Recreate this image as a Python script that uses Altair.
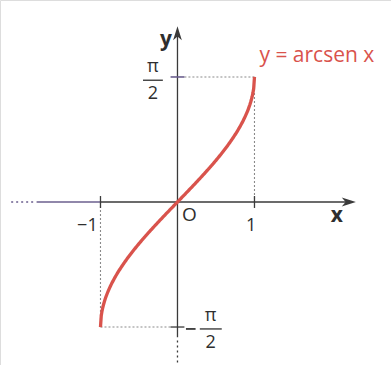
import altair as alt
import numpy as np
import pandas as pd

# --- values -------------------------------------------------------------
HALF_PI = np.pi / 2
curve_x = np.linspace(-1, 1, 201)
curve_y = np.arcsin(curve_x)

x_ticks = [-1, 1]
x_tick_labels = ["−1", "1"]
y_ticks = [HALF_PI, -HALF_PI]

# plot window (data units)
X_DOMAIN = [-2.305, 2.773]
Y_DOMAIN = [-2.048, 2.538]

RED = "#d9534c"
AXIS = "#3a3a3a"
PURPLE = "#6b5f8e"
GUIDE = "#8a8a8a"
TEXT = "#2e2e2e"
FONT = "Open Sans"

xs = alt.Scale(domain=X_DOMAIN, nice=False, zero=False)
ys = alt.Scale(domain=Y_DOMAIN, nice=False, zero=False)


def segs(rows):
    return pd.DataFrame(rows, columns=["x0", "y0", "x1", "y1"])


def rule_layer(df, color, width=1.2, dash=None):
    kw = dict(color=color, strokeWidth=width)
    if dash:
        kw["strokeDash"] = dash
    return alt.Chart(df).mark_rule(**kw).encode(
        x=alt.X("x0:Q", scale=xs, axis=None),
        y=alt.Y("y0:Q", scale=ys, axis=None),
        x2="x1:Q",
        y2="y1:Q",
    )


# axes
x_axis_dark = segs([[-1.0, 0, 2.20, 0]])
x_axis_purple = segs([[-1.83, 0, -1.0, 0]])
x_axis_dots = segs([[-2.16, 0, -1.87, 0]])
y_axis = segs([[0, -1.70, 0, 2.10]])
y_axis_dots = segs([[0, -1.74, 0, -2.04]])

# tick marks
x_tick_df = segs([[t, -0.075, t, 0.075] for t in x_ticks])
y_tick_top = segs([[-0.09, HALF_PI, 0.09, HALF_PI]])
y_tick_bottom = segs([[-0.09, -HALF_PI, 0.09, -HALF_PI]])

# dotted guides to the curve's end points
guides = segs([
    [0.09, HALF_PI, 1.02, HALF_PI],
    [1.0, HALF_PI, 1.0, 0],
    [-1.0, -HALF_PI, -0.09, -HALF_PI],
    [-1.0, 0, -1.0, -HALF_PI],
])

# fraction bars of the π/2 labels, and the minus sign of −π/2
frac_bars = segs([
    [-0.448, 1.53, -0.19, 1.53],
    [0.29, -1.595, 0.575, -1.595],
])
minus_bar = segs([[0.11, -1.595, 0.235, -1.595]])

curve = alt.Chart(pd.DataFrame({"x": curve_x, "y": curve_y})).mark_line(
    color=RED, strokeWidth=3.3
).encode(
    x=alt.X("x:Q", scale=xs, axis=None),
    y=alt.Y("y:Q", scale=ys, axis=None),
    order="x:Q",
)

arrows = pd.DataFrame({
    "x": [2.225, 0.0],
    "y": [0.0, 2.12],
    "shape": [
        "M 1 0 L -1 -0.62 L -0.45 0 L -1 0.62 Z",
        "M 0 -1 L 0.62 1 L 0 0.45 L -0.62 1 Z",
    ],
})
arrow_layer = alt.Chart(arrows).mark_point(
    filled=True, color=AXIS, opacity=1, size=200
).encode(
    x=alt.X("x:Q", scale=xs, axis=None),
    y=alt.Y("y:Q", scale=ys, axis=None),
    shape=alt.Shape("shape:N", scale=None),
)


def text_layer(df, color=TEXT, size=17, weight="normal"):
    return alt.Chart(df).mark_text(
        color=color, fontSize=size, fontWeight=weight, font=FONT,
        align="center", baseline="middle",
    ).encode(
        x=alt.X("x:Q", scale=xs, axis=None),
        y=alt.Y("y:Q", scale=ys, axis=None),
        text="t:N",
    )


tick_text = pd.DataFrame({
    "x": [-1.17, 0.955],
    "y": [-0.30, -0.30],
    "t": x_tick_labels,
})
origin = pd.DataFrame({"x": [0.156], "y": [-0.165], "t": ["O"]})
pi_text = pd.DataFrame({
    "x": [-0.32, 0.43],
    "y": [1.70, -1.435],
    "t": ["π", "π"],
})
two_text = pd.DataFrame({
    "x": [-0.32, 0.43],
    "y": [1.36, -1.775],
    "t": ["2", "2"],
})
axis_names = pd.DataFrame({
    "x": [2.07, -0.15],
    "y": [-0.18, 2.03],
    "t": ["x", "y"],
})
title = pd.DataFrame({"x": [1.81], "y": [1.83], "t": ["y = arcsen x"]})

chart = alt.layer(
    rule_layer(guides, GUIDE, 1.1, [2, 2]),
    rule_layer(x_axis_dots, PURPLE, 1.6, [2, 3]),
    rule_layer(x_axis_purple, PURPLE, 1.3),
    rule_layer(x_axis_dark, AXIS, 1.3),
    rule_layer(y_axis, AXIS, 1.3),
    rule_layer(y_axis_dots, AXIS, 1.3, [2, 3]),
    rule_layer(x_tick_df, AXIS, 1.3),
    rule_layer(y_tick_top, PURPLE, 1.6),
    rule_layer(y_tick_bottom, AXIS, 1.3),
    rule_layer(frac_bars, TEXT, 1.3),
    rule_layer(minus_bar, TEXT, 1.7),
    curve,
    arrow_layer,
    text_layer(tick_text, size=18),
    text_layer(origin, size=19),
    text_layer(pi_text, size=18),
    text_layer(two_text, size=18),
    text_layer(axis_names, size=21, weight="bold"),
    text_layer(title, color=RED, size=21),
).properties(
    width=391, height=365, padding=0, autosize=alt.AutoSizeParams(type="none")
).configure_view(stroke=None).configure(background="white")

chart.save("out.html", embed_options={"renderer": "svg", "actions": False})
